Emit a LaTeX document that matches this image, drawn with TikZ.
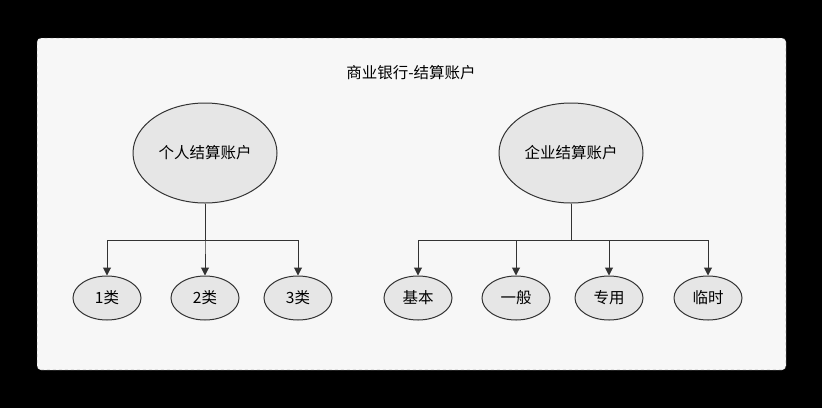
\documentclass[tikz,border=0pt]{standalone}
\usepackage{fontspec}
\setmainfont{Noto Sans CJK SC}
\usetikzlibrary{shapes.geometric,arrows.meta}
\definecolor{panel}{HTML}{F7F7F7}
\definecolor{ellfill}{HTML}{E6E6E6}
\definecolor{edge}{HTML}{333333}
\begin{document}
\begin{tikzpicture}[x=1pt,y=-1pt,
  big/.style={ellipse,draw=edge,fill=ellfill,line width=1pt,minimum width=144pt,minimum height=100pt,inner sep=0pt,font=\fontsize{15.5}{17}\selectfont},
  small/.style={ellipse,draw=edge,fill=ellfill,line width=1pt,minimum width=68pt,minimum height=44pt,inner sep=0pt,font=\fontsize{15.5}{17}\selectfont},
  conn/.style={draw=edge,line width=1pt,-{Triangle[length=8pt,width=8pt]}}]
\fill[black] (0,0) rectangle (822,408);
\useasboundingbox (0,0) rectangle (822,408);
\draw[fill=panel,draw=black!70,dashed,rounded corners=4pt] (37,38) rectangle (786,370);
\node[font=\fontsize{15.5}{17}\selectfont] (title) at (411,73) {商业银行-结算账户};
\node[big] (p) at (205,153) {个人结算账户};
\node[big] (e) at (571,153) {企业结算账户};
\node[small] (p1) at (107,298) {1类};
\node[small] (p2) at (205,298) {2类};
\node[small] (p3) at (298,298) {3类};
\node[small] (e1) at (418,298) {基本};
\node[small] (e2) at (516,298) {一般};
\node[small] (e3) at (609,298) {专用};
\node[small] (e4) at (708,298) {临时};
\foreach \t in {p1,p2,p3} \draw[conn] (p.south) |- ++(0,37) -| (\t.north);
\foreach \t in {e1,e2,e3,e4} \draw[conn] (e.south) |- ++(0,37) -| (\t.north);
\end{tikzpicture}
\end{document}
